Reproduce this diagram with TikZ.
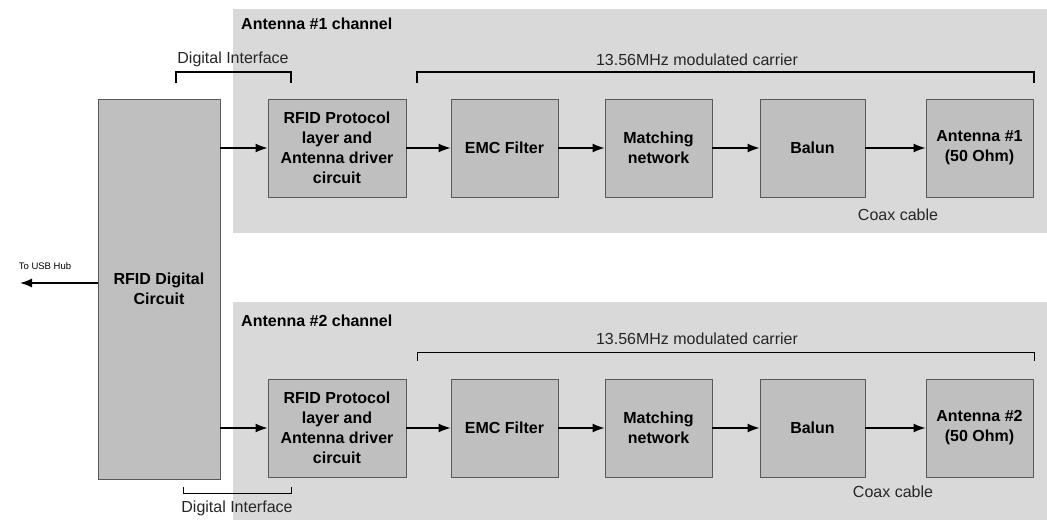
\documentclass[tikz,border=0pt]{standalone}
\usepackage{fontspec}
\setmainfont{Liberation Sans}
\usetikzlibrary{calc}
\usetikzlibrary{arrows.meta}

\begin{document}
\begin{tikzpicture}[x=1pt,y=-1pt,
    blk/.style={draw=black!65, fill=black!25, line width=0.8pt, inner sep=0pt,
      align=center, font=\fontsize{16}{20}\selectfont\bfseries, minimum height=98pt},
    lbl/.style={font=\fontsize{16}{20}\selectfont, text=black!85, inner sep=0pt},
    ttl/.style={font=\fontsize{16}{20}\selectfont\bfseries, inner sep=0pt, anchor=west},
    link/.style={-{Latex[length=12pt,width=9pt]}, line width=1.5pt},
    brk/.style={line width=1.2pt}]
    \useasboundingbox (0,0) rectangle (1047,520);
    \fill[black!15] (233,9) rectangle (1047,233); % channel 1 panel
    \fill[black!15] (233,302) rectangle (1047,520); % channel 2 panel
    \node[blk, minimum width=122pt, minimum height=380pt] (dig) at (159,289) {RFID Digital\\Circuit};
    \coordinate (usbend) at (20,283);
    \draw[link] (dig.west |- usbend) -- (usbend);
    \node[font=\fontsize{9.5}{11}\selectfont, inner sep=0pt] (usb) at (45,266) {To USB Hub};
    \foreach \n/\y in {1/148,2/428}{
        \node[blk, minimum width=138pt] (prot\n) at (337,\y) {RFID Protocol\\layer and\\Antenna driver\\circuit};
        \node[blk, minimum width=107pt] (emc\n) at (504.5,\y) {EMC Filter};
        \node[blk, minimum width=107pt] (match\n) at (658.5,\y) {Matching\\network};
        \node[blk, minimum width=105pt] (balun\n) at (812.5,\y) {Balun};
        \node[blk, minimum width=107pt] (ant\n) at (979.5,\y) {Antenna \#\n\\(50 Ohm)};
        \draw[link] (dig.east |- prot\n.west) -- (prot\n.west);
        \draw[link] (prot\n) -- (emc\n);
        \draw[link] (emc\n) -- (match\n);
        \draw[link] (match\n) -- (balun\n);
        \draw[link] (balun\n) -- (ant\n);
    }
    \node[ttl] (ch1) at (241,24) {Antenna \#1 channel};
    \node[ttl] (ch2) at (241,321) {Antenna \#2 channel};
    \node[lbl] (di1) at (233,59) {Digital Interface};
    \node[lbl] (di2) at (237,508) {Digital Interface};
    \node[lbl] (mc1) at (697,60) {13.56MHz modulated carrier};
    \node[lbl] (mc2) at (697,339) {13.56MHz modulated carrier};
    \node[lbl] (cx1) at (898,215) {Coax cable};
    \node[lbl] (cx2) at (893,492) {Coax cable};
    % brackets
    \draw[brk] (176,83) -- (176,72) -- (291,72) -- (291,83);
    \draw[brk] (417,83) -- (417,72) -- (1034,72) -- (1034,83);
    \draw[brk, line width=0.8pt] (417,361) -- (417,352) -- (1034,352) -- (1034,361);
    \draw[brk, line width=0.8pt] (183,487) -- (183,493) -- (291,493) -- (291,487);
\end{tikzpicture}
\end{document}
